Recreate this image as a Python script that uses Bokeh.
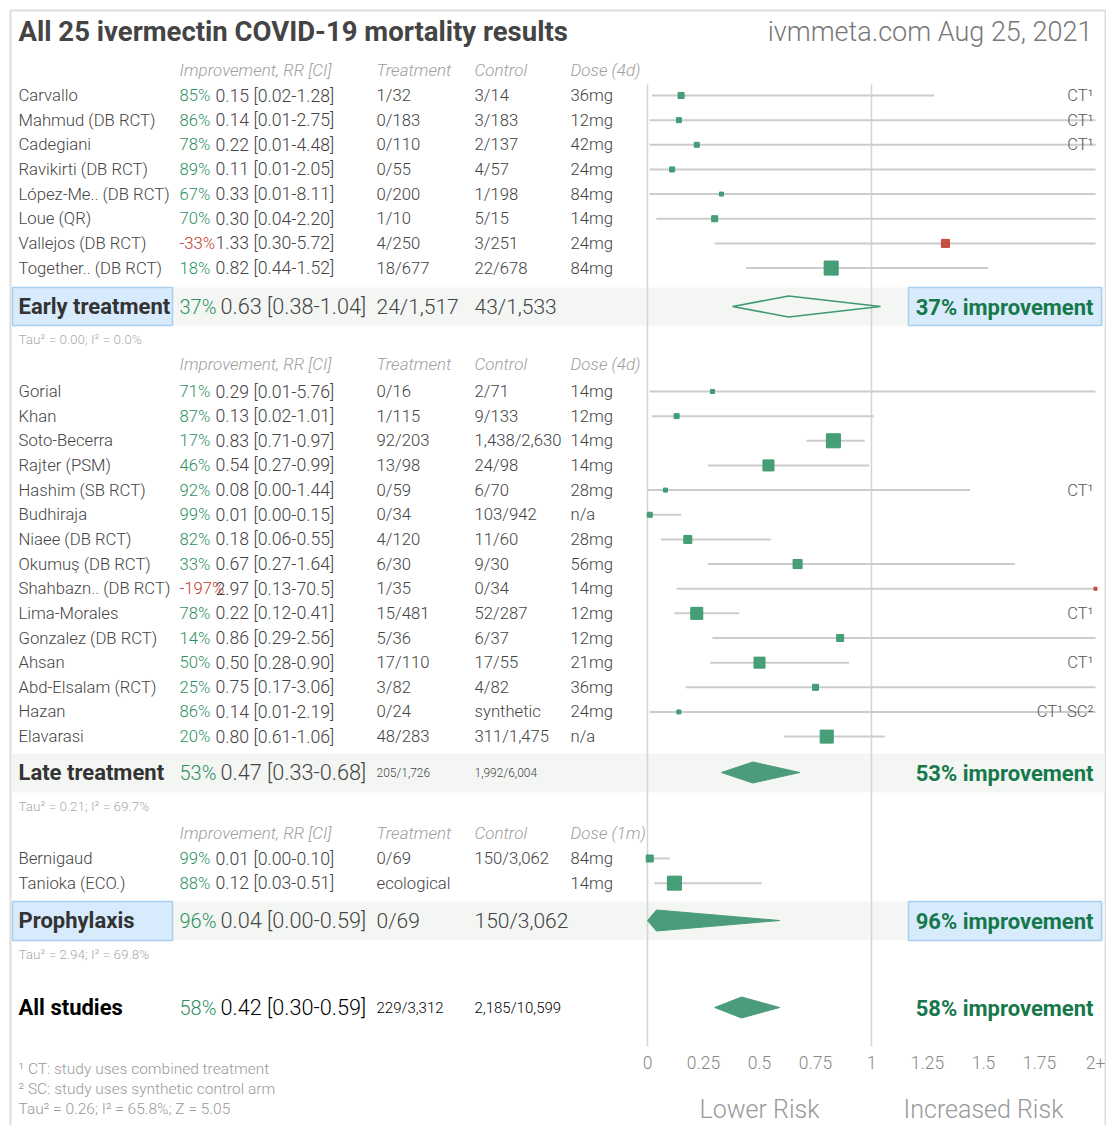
from bokeh.plotting import figure
from bokeh.models import Range1d
from bokeh.embed import file_html
from bokeh.resources import INLINE
from bokeh.core.properties import value

# ---------------- data ----------------
early_names = ["Carvallo", "Mahmud (DB RCT)", "Cadegiani", "Ravikirti (DB RCT)", "López-Me.. (DB RCT)",
               "Loue (QR)", "Vallejos (DB RCT)", "Together.. (DB RCT)"]
early_impr = ["85%", "86%", "78%", "89%", "67%", "70%", "-33%", "18%"]
early_rr = [0.15, 0.14, 0.22, 0.11, 0.33, 0.30, 1.33, 0.82]
early_lo = [0.02, 0.01, 0.01, 0.01, 0.01, 0.04, 0.30, 0.44]
early_hi = [1.28, 2.75, 4.48, 2.05, 8.11, 2.20, 5.72, 1.52]
early_treat = ["1/32", "0/183", "0/110", "0/55", "0/200", "1/10", "4/250", "18/677"]
early_ctrl = ["3/14", "3/183", "2/137", "4/57", "1/198", "5/15", "3/251", "22/678"]
early_dose = ["36mg", "12mg", "42mg", "24mg", "84mg", "14mg", "24mg", "84mg"]
early_note = ["CT¹", "CT¹", "CT¹", "", "", "", "", ""]
early_weight = [6, 5, 5, 5, 4, 6, 8, 14]

late_names = ["Gorial", "Khan", "Soto-Becerra", "Rajter (PSM)", "Hashim (SB RCT)", "Budhiraja",
              "Niaee (DB RCT)", "Okumuş (DB RCT)", "Shahbazn.. (DB RCT)", "Lima-Morales",
              "Gonzalez (DB RCT)", "Ahsan", "Abd-Elsalam (RCT)", "Hazan", "Elavarasi"]
late_impr = ["71%", "87%", "17%", "46%", "92%", "99%", "82%", "33%", "-197%", "78%", "14%", "50%",
             "25%", "86%", "20%"]
late_rr = [0.29, 0.13, 0.83, 0.54, 0.08, 0.01, 0.18, 0.67, 2.97, 0.22, 0.86, 0.50, 0.75, 0.14, 0.80]
late_lo = [0.01, 0.02, 0.71, 0.27, 0.00, 0.00, 0.06, 0.27, 0.13, 0.12, 0.29, 0.28, 0.17, 0.01, 0.61]
late_hi = [5.76, 1.01, 0.97, 0.99, 1.44, 0.15, 0.55, 1.64, 70.5, 0.41, 2.56, 0.90, 3.06, 2.19, 1.06]
late_treat = ["0/16", "1/115", "92/203", "13/98", "0/59", "0/34", "4/120", "6/30", "1/35", "15/481",
              "5/36", "17/110", "3/82", "0/24", "48/283"]
late_ctrl = ["2/71", "9/133", "1,438/2,630", "24/98", "6/70", "103/942", "11/60", "9/30", "0/34",
             "52/287", "6/37", "17/55", "4/82", "synthetic", "311/1,475"]
late_dose = ["14mg", "12mg", "14mg", "14mg", "28mg", "n/a", "28mg", "56mg", "14mg", "12mg", "12mg",
             "21mg", "36mg", "24mg", "n/a"]
late_note = ["", "", "", "", "CT¹", "", "", "", "", "CT¹", "", "CT¹", "", "CT¹ SC²", ""]
late_weight = [4, 5, 14, 11, 4, 5, 8, 9, 3, 12, 7, 11, 6, 4, 13]

proph_names = ["Bernigaud", "Tanioka (ECO.)"]
proph_impr = ["99%", "88%"]
proph_rr = [0.01, 0.12]
proph_lo = [0.00, 0.03]
proph_hi = [0.10, 0.51]
proph_treat = ["0/69", "ecological"]
proph_ctrl = ["150/3,062", ""]
proph_dose = ["84mg", "14mg"]
proph_note = ["", ""]
proph_weight = [7, 14]

sum_labels = ["Early treatment", "Late treatment", "Prophylaxis", "All studies"]
sum_impr = ["37%", "53%", "96%", "58%"]
sum_rr = [0.63, 0.47, 0.04, 0.42]
sum_lo = [0.38, 0.33, 0.00, 0.30]
sum_hi = [1.04, 0.68, 0.59, 0.59]
sum_treat = ["24/1,517", "205/1,726", "0/69", "229/3,312"]
sum_ctrl = ["43/1,533", "1,992/6,004", "150/3,062", "2,185/10,599"]
sum_tau = ["Tau² = 0.00; I² = 0.0%", "Tau² = 0.21; I² = 69.7%", "Tau² = 2.94; I² = 69.8%", ""]

tick_values = [0, 0.25, 0.5, 0.75, 1, 1.25, 1.5, 1.75, 2]
tick_labels = ["0", "0.25", "0.5", "0.75", "1", "1.25", "1.5", "1.75", "2+"]
footnotes = ["¹ CT: study uses combined treatment", "² SC: study uses synthetic control arm",
             "Tau² = 0.26; I² = 65.8%; Z = 5.05"]

# ---------------- layout ----------------
W, H = 1106, 1125
X0, S = 647.0, 224.0   # pixel of RR=0, pixels per RR unit
CAP = 2.0


def X(px):
    return (px - X0) / S


def cap(v):
    return min(v, CAP)


p = figure(width=W, height=H, output_backend="svg", toolbar_location=None,
           x_range=Range1d(X(0), X(W)), y_range=Range1d(H, 0),
           x_axis_type=None, y_axis_type=None, min_border=0)
p.grid.visible = False
p.outline_line_color = None
p.background_fill_color = "white"
p.border_fill_color = "white"

FONT = "Roboto"
LIGHT = "Roboto Light, Roboto"
GREEN_T = "#2f9062"
RED_T = "#c0392b"
SQ_GREEN = "#3d9a70"
SQ_RED = "#c4463a"
DK_GREEN = "#16784a"


def txt(xs, ys, texts, size, color="#444444", style="normal", align="left", font=LIGHT):
    n = len(texts)
    if not isinstance(xs, list):
        xs = [xs] * n
    if not isinstance(ys, list):
        ys = [ys] * n
    if not isinstance(color, list):
        color = [color] * n
    p.text(x=xs, y=ys, text=texts, text_font=value(font), text_font_size=size,
           text_color=color, text_font_style=style, text_align=align, text_baseline="middle")


# outer frame
p.quad(left=X(10), right=X(1105), top=10, bottom=H + 20, fill_color=None, line_color="#dddddd", line_width=2)

# summary background bands
band_top = [287, 753, 901]
band_bot = [325, 792, 940]
p.quad(left=X(11), right=X(1104), top=band_top, bottom=band_bot, fill_color="#f3f6f3", line_color=None)

# blue highlight boxes
p.quad(left=[X(12), X(12), X(908), X(908)], right=[X(172), X(172), X(1101), X(1101)],
       top=[287, 901, 287, 901], bottom=[325, 940, 325, 940],
       fill_color="#d8ebfc", line_color="#a9cff0", line_width=1.5)

# reference lines at RR 0 and 1
p.segment(x0=[0, 1], x1=[0, 1], y0=[84, 84], y1=[1046, 1046], line_color="#d3d3d3", line_width=1.5)

# title
txt(X(18), 31, ["All 25 ivermectin COVID-19 mortality results"], "27.5px", "#444444", "bold", font=FONT)
txt(X(1092), 31, ["ivmmeta.com Aug 25, 2021"], "27px", "#777777", "normal", "right")

headers = ["Improvement, RR [CI]", "Treatment", "Control"]
hx = [X(179), X(376), X(474)]


def section(y0, names, impr, rr, lo, hi, treat, ctrl, dose, note, weight, head_y, dose_head):
    ys = [y0 + 24.65 * i for i in range(len(names))]
    txt(hx + [X(570)], head_y, headers + [dose_head], "17px", "#a0a0a0", "italic")
    txt(X(18), ys, names, "16.7px", "#444444")
    cols = [RED_T if v.startswith("-") else GREEN_T for v in impr]
    txt(X(179), ys, impr, "16.7px", cols)
    rrtxt = ["%.2f [%.2f-%s]" % (r, l, ("%.2f" % h) if h < 10 else ("%.1f" % h)) for r, l, h in zip(rr, lo, hi)]
    txt(X(215), ys, rrtxt, "17.7px", "#444444")
    txt(X(376), ys, treat, "16.7px", "#444444")
    txt(X(474), ys, ctrl, "16.7px", "#444444")
    txt(X(570), ys, dose, "16.7px", "#444444")
    p.segment(x0=[cap(v) for v in lo], x1=[cap(v) for v in hi], y0=ys, y1=ys,
              line_color="#cccccc", line_width=2)
    sq_cols = [SQ_RED if r > 1 else SQ_GREEN for r in rr]
    p.scatter(x=[cap(v) for v in rr], y=ys, marker="square", size=weight,
              fill_color=sq_cols, line_color=sq_cols, fill_alpha=0.95)
    txt(X(1093), ys, note, "16.5px", "#555555", "normal", "right")


section(95, early_names, early_impr, early_rr, early_lo, early_hi, early_treat, early_ctrl,
        early_dose, early_note, early_weight, 69, "Dose (4d)")
section(391, late_names, late_impr, late_rr, late_lo, late_hi, late_treat, late_ctrl,
        late_dose, late_note, late_weight, 363, "Dose (4d)")
section(858, proph_names, proph_impr, proph_rr, proph_lo, proph_hi, proph_treat, proph_ctrl,
        proph_dose, proph_note, proph_weight, 832, "Dose (1m)")

# summary rows
sum_y = [306, 772, 920, 1007]
tau_y = [338, 805, 953]
for i in range(4):
    y = sum_y[i]
    lab_col = "#000000" if i == 3 else "#333333"
    txt(X(18), y, [sum_labels[i]], "22px", lab_col, "bold", font=FONT)
    txt(X(179), y, [sum_impr[i]], "20px", GREEN_T)
    rrtxt = "%.2f [%.2f-%.2f]" % (sum_rr[i], sum_lo[i], sum_hi[i])
    txt(X(220), y, [rrtxt], "21.7px", "#000000" if i == 3 else "#444444")
    size = {0: "21px", 1: "12px", 2: "21px", 3: "15px"}[i]
    c2 = "#000000" if i == 3 else "#444444"
    txt(X(376), y, [sum_treat[i]], size, c2)
    txt(X(474), y, [sum_ctrl[i]], size, c2)
    txt(X(1093), y + 1, [sum_impr[i] + " improvement"], "22px", DK_GREEN, "bold", "right", font=FONT)
    hh = 10.5
    xs = [sum_lo[i], sum_rr[i], sum_hi[i], sum_rr[i]]
    ysd = [y, y - hh, y, y + hh]
    if sum_hi[i] > 1:
        p.patch(x=xs, y=ysd, fill_color=None, line_color=SQ_GREEN, line_width=1.5)
    else:
        p.patch(x=xs, y=ysd, fill_color="#4a9c7a", line_color="#4a9c7a", fill_alpha=1.0)
    if i < 3:
        txt(X(18), tau_y[i], [sum_tau[i]], "13.5px", "#aaaaaa")

# axis tick labels
txt(tick_values, 1062, tick_labels, "17.5px", "#888888", "normal", "center")
txt([0.5, 1.5], 1109, ["Lower Risk", "Increased Risk"], "25px", "#999999", "normal", "center")

# footnotes
txt(X(18), [1068, 1088, 1108], footnotes, "15.5px", "#999999")

open("out.html", "w").write(file_html(p, INLINE))
